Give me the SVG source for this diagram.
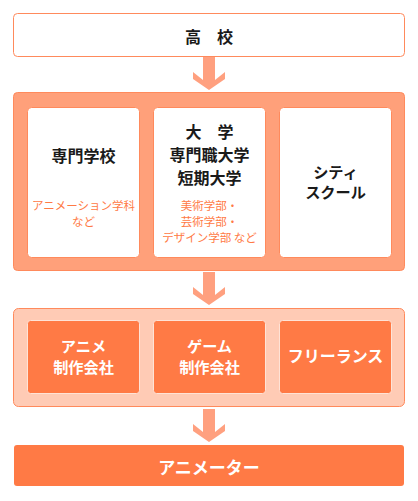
<svg xmlns="http://www.w3.org/2000/svg" width="418" height="501" viewBox="0 0 418 501">
<style>
text{font-family:"Noto Sans CJK JP","Noto Sans",sans-serif;text-anchor:middle;dominant-baseline:central}
.k{font-size:16px;font-weight:bold;fill:#1a1a1a}
.o{font-size:11.5px;fill:#ff7a45}
.w{font-size:16px;font-weight:bold;fill:#ffffff}
.t{font-size:15.2px}
.wb{fill:#ffffff;stroke:#ff8a5c;stroke-width:1}
.db{fill:#ff7a45;stroke:#ffe3d6;stroke-width:1}
.arr{fill:#ffa07f}
</style>
<defs>
<polygon id="arrow" points="-6,0 6,0 6,23 16,15 16,22 0,33 -16,22 -16,15 -6,23"/>
</defs>
<g id="connectors">
<use href="#arrow" x="209" y="57" class="arr"/>
<use href="#arrow" x="209" y="272" class="arr"/>
<use href="#arrow" x="209" y="409" class="arr"/>
</g>
<g id="koukou">
<rect x="13.5" y="13.5" width="391" height="43" rx="4" class="wb"/>
<text x="209" y="36" class="k">高　校</text>
</g>
<g id="school-group">
<rect x="13.5" y="92.5" width="391" height="178" rx="4" fill="#ffa07a" stroke="#ff8a5c"/>
</g>
<g id="senmon">
<rect x="27.5" y="107.5" width="112" height="150" rx="4" class="wb"/>
<text x="83.5" y="155" class="k">専門学校</text>
<text x="83.5" y="205" class="o">アニメーション学科</text>
<text x="83.5" y="220.5" class="o">など</text>
</g>
<g id="daigaku">
<rect x="153.5" y="107.5" width="112" height="150" rx="4" class="wb"/>
<text x="209.5" y="131" class="k">大　学</text>
<text x="209.5" y="154" class="k">専門職大学</text>
<text x="209.5" y="177" class="k">短期大学</text>
<text x="209.5" y="205" class="o">美術学部・</text>
<text x="209.5" y="221" class="o">芸術学部・</text>
<text x="209.5" y="237" class="o">デザイン学部 など</text>
</g>
<g id="city">
<rect x="279.5" y="107.5" width="112" height="150" rx="4" class="wb"/>
<text x="335.5" y="170.5" class="k t">シティ</text>
<text x="335.5" y="191" class="k t">スクール</text>
</g>
<g id="work-group">
<rect x="13.5" y="308.5" width="391" height="98" rx="5" fill="#ffcbb5" stroke="#ff8a5c"/>
</g>
<g id="anime-co">
<rect x="27.5" y="320.5" width="112" height="73" rx="3" class="db"/>
<text x="83.5" y="345" class="w t">アニメ</text>
<text x="83.5" y="365.5" class="w t">制作会社</text>
</g>
<g id="game-co">
<rect x="153.5" y="320.5" width="112" height="73" rx="3" class="db"/>
<text x="209.5" y="345" class="w t">ゲーム</text>
<text x="209.5" y="365.5" class="w t">制作会社</text>
</g>
<g id="freelance">
<rect x="279.5" y="320.5" width="112" height="73" rx="3" class="db"/>
<text x="335.5" y="355" class="w">フリーランス</text>
</g>
<g id="animator">
<rect x="14" y="445" width="390" height="41" rx="3" fill="#ff7a45"/>
<text x="209" y="466" class="w" style="font-size:17px">アニメーター</text>
</g>
</svg>
